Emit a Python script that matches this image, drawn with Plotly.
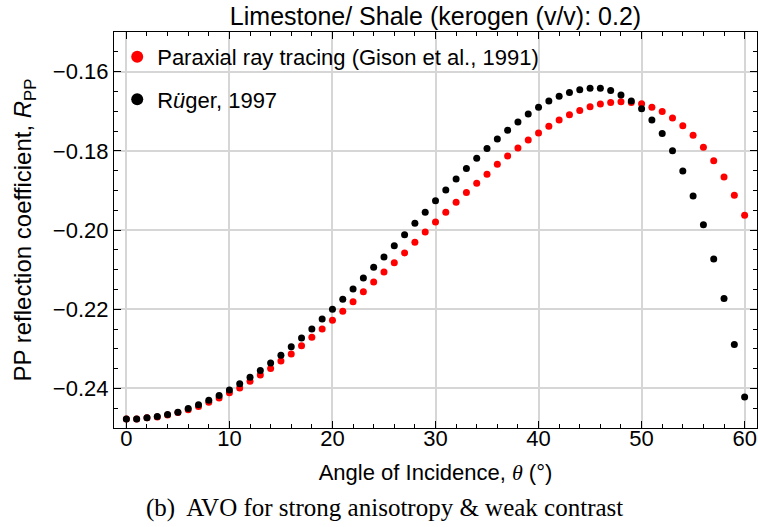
import plotly.graph_objects as go

# Angle of incidence (degrees)
theta = list(range(0, 61))

# PP reflection coefficient - paraxial ray tracing (Gison et al., 1991)
rpp_paraxial = [
    -0.2477, -0.2477, -0.2474, -0.2472, -0.2467, -0.2461, -0.2454, -0.2446, -0.2435, -0.2424,
    -0.2411, -0.2399, -0.2382, -0.2366, -0.2350, -0.2331, -0.2313, -0.2292, -0.2271, -0.2250,
    -0.2228, -0.2205, -0.2181, -0.2156, -0.2131, -0.2106, -0.2083, -0.2058, -0.2031, -0.2005,
    -0.1980, -0.1955, -0.1930, -0.1905, -0.1882, -0.1859, -0.1834, -0.1813, -0.1793, -0.1773,
    -0.1755, -0.1738, -0.1722, -0.1709, -0.1698, -0.1689, -0.1682, -0.1678, -0.1676, -0.1678,
    -0.1681, -0.1690, -0.1701, -0.1717, -0.1737, -0.1761, -0.1791, -0.1825, -0.1866, -0.1912,
    -0.1963,
]

# PP reflection coefficient - Rüger (1997) approximation
rpp_ruger = [
    -0.2477, -0.2477, -0.2474, -0.2471, -0.2466, -0.2460, -0.2451, -0.2441, -0.2430, -0.2418,
    -0.2404, -0.2388, -0.2372, -0.2355, -0.2336, -0.2316, -0.2295, -0.2273, -0.2250, -0.2225,
    -0.2200, -0.2175, -0.2149, -0.2121, -0.2094, -0.2068, -0.2040, -0.2012, -0.1983, -0.1955,
    -0.1926, -0.1899, -0.1871, -0.1845, -0.1819, -0.1794, -0.1770, -0.1748, -0.1727, -0.1707,
    -0.1690, -0.1674, -0.1662, -0.1653, -0.1646, -0.1642, -0.1642, -0.1648, -0.1659, -0.1674,
    -0.1694, -0.1722, -0.1756, -0.1800, -0.1851, -0.1914, -0.1987, -0.2073, -0.2173, -0.2289,
    -0.2422,
]

series_names = ["Paraxial ray tracing (Gison et al., 1991)", "R<i>ü</i>ger, 1997"]
series_colors = ["#ff0000", "#000000"]

SANS = "Liberation Sans, Arial, sans-serif"
SERIF = "Liberation Serif, Times New Roman, serif"

fig = go.Figure()

for name, color, yvals, grp in zip(series_names, series_colors, [rpp_paraxial, rpp_ruger], ["a", "b"]):
    fig.add_trace(go.Scatter(
        x=theta, y=yvals, mode="markers",
        marker=dict(color=color, size=7, line=dict(width=0)),
        showlegend=False, legendgroup=grp,
    ))
    # larger legend symbol
    fig.add_trace(go.Scatter(
        x=[None], y=[None], mode="markers", name=name,
        marker=dict(color=color, size=12, line=dict(width=0)),
        legendgroup=grp, showlegend=True,
    ))

axis_common = dict(
    showline=True, linecolor="black", linewidth=1.2, mirror="allticks",
    ticks="inside", ticklen=7, tickwidth=1.2, tickcolor="black",
    showgrid=True, gridcolor="#d6d6d6", gridwidth=1.5,
    zeroline=False,
    tickfont=dict(family=SANS, size=22, color="black"),
)

fig.update_xaxes(
    **axis_common,
    range=[-1.2, 61.2], dtick=10, tick0=0,
    ticklabelstandoff=-10,
    minor=dict(ticks="inside", ticklen=4, tickwidth=1, tickcolor="black", dtick=2, showgrid=False),
    title=dict(
        text='Angle of Incidence, <span style="font-family:Liberation Serif"><i>θ</i></span> (°)',
        font=dict(family=SANS, size=22, color="black"), standoff=15,
    ),
)
fig.update_yaxes(
    **axis_common,
    range=[-0.25, -0.15], dtick=0.02, tick0=-0.24, tickformat=".2f",
    minor=dict(ticks="inside", ticklen=4, tickwidth=1, tickcolor="black", dtick=0.005, showgrid=False),
    title=dict(
        text="PP reflection coefficient, <i>R</i><sub>PP</sub>",
        font=dict(family=SANS, size=24, color="black"), standoff=14,
    ),
)

fig.update_layout(
    width=758, height=527,
    margin=dict(l=114, r=1, t=32, b=99),
    paper_bgcolor="white", plot_bgcolor="white",
    title=dict(
        text="Limestone/ Shale (kerogen (v/v): 0.2)",
        font=dict(family=SANS, size=25, color="black"),
        x=(114 + 757) / 2 / 758, xanchor="center",
        y=1 - 16 / 527, yanchor="middle",
    ),
    legend=dict(
        x=0.005, y=0.99, xanchor="left", yanchor="top",
        bgcolor="rgba(255,255,255,0)", borderwidth=0,
        font=dict(family=SANS, size=22, color="black"),
        tracegroupgap=11,
    ),
    annotations=[
        dict(
            text="(b)  AVO for strong anisotropy &amp; weak contrast",
            xref="paper", yref="paper", x=(384 - 114) / 643, y=-(508 - 428) / 396,
            xanchor="center", yanchor="middle", showarrow=False,
            font=dict(family=SERIF, size=25, color="black"),
        )
    ],
)

fig.write_html("out.html")
